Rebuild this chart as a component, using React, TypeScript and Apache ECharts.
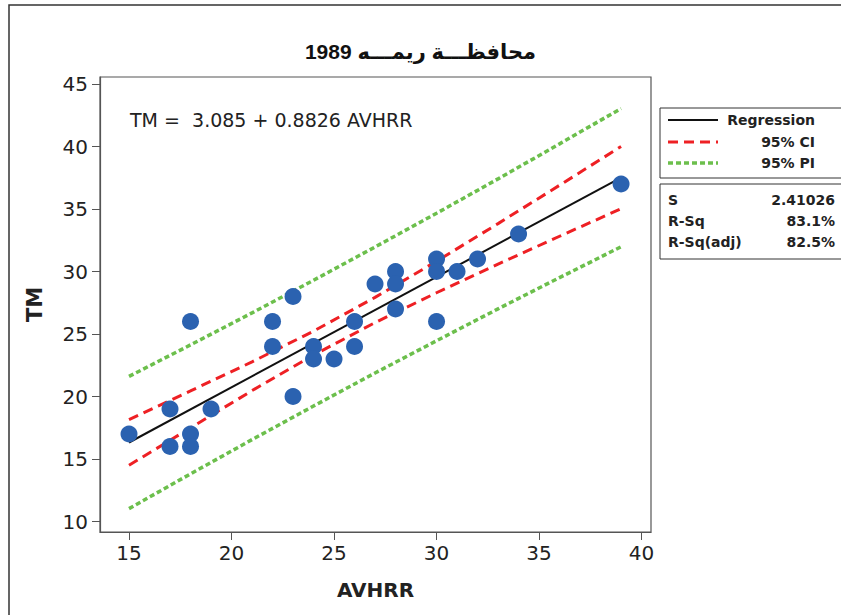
import React, { useEffect, useRef } from "react";
import * as echarts from "echarts";

const AVHRR = [15, 17, 17, 18, 18, 18, 19, 22, 22, 23, 23, 24, 24, 25, 26, 26, 27, 28, 28, 28, 30, 30, 30, 31, 32, 34, 39];
const TM = [17, 19, 16, 26, 17, 16, 19, 26, 24, 28, 20, 24, 23, 23, 26, 24, 29, 30, 29, 27, 31, 30, 26, 30, 31, 33, 37];

// Fitted line and bands
const FIT_X = [15, 39];
const FIT_Y = [16.32, 37.51];
const BAND_X = [15, 18, 21, 24, 27, 30, 33, 36, 39];
const CI_UPPER = [18.15, 20.45, 22.77, 25.23, 27.93, 30.82, 33.83, 36.9, 40.0];
const CI_LOWER = [14.5, 17.49, 20.47, 23.31, 25.91, 28.3, 30.59, 32.82, 35.02];
const PI_UPPER = [21.61, 24.13, 26.69, 29.3, 31.96, 34.66, 37.41, 40.21, 43.04];
const PI_LOWER = [11.03, 13.81, 16.55, 19.24, 21.88, 24.46, 27.01, 29.51, 31.98];

const X_TICKS = [15, 20, 25, 30, 35, 40];
const Y_TICKS = [10, 15, 20, 25, 30, 35, 40, 45];

const TITLE = "1989 محافظـــة ريمـــه";
const EQUATION = "TM =  3.085 + 0.8826 AVHRR";
const LEGEND_NAMES = ["Regression", "95% CI", "95% PI"];
const STAT_NAMES = ["S", "R-Sq", "R-Sq(adj)"];
const STAT_VALUES = ["2.41026", "83.1%", "82.5%"];

const RED = "#ee2024";
const GREEN = "#6cbf4c";
const BLUE = "#2b62b0";
const AXIS = "#555555";
const TXT = "#222222";
const TICK_FONT = "'DejaVu Sans', Tahoma, sans-serif";
const ARIAL = "'Liberation Sans', Arial, 'DejaVu Sans', sans-serif";

function zip(xs: number[], ys: number[]) {
  return xs.map((x, i) => [x, ys[i]]);
}

export default function App() {
  const ref = useRef<HTMLDivElement>(null);
  useEffect(() => {
    if (!ref.current) return;
    const chart = echarts.init(ref.current, null, { renderer: "svg" });

    const legendStyles = [
      { stroke: "#111", lineWidth: 2, lineDash: null as any },
      { stroke: RED, lineWidth: 3, lineDash: [10, 6] },
      { stroke: GREEN, lineWidth: 3.5, lineDash: [5, 3] },
    ];
    const legendYs = [120, 142, 163];
    const statYs = [200, 221, 242];

    const graphic: any[] = [
      {
        type: "rect",
        shape: { x: 9, y: 5, width: 900, height: 700 },
        style: { fill: "none", stroke: "#333", lineWidth: 1.5 },
        silent: true,
      },
      {
        type: "text",
        x: 130,
        y: 120,
        style: { text: EQUATION, fill: TXT, font: `19px ${TICK_FONT}`, textAlign: "left", textVerticalAlign: "middle" },
      },
      {
        type: "rect",
        shape: { x: 660, y: 108, width: 200, height: 70 },
        style: { fill: "#fff", stroke: "#333", lineWidth: 1 },
      },
      {
        type: "rect",
        shape: { x: 660, y: 184, width: 200, height: 75 },
        style: { fill: "#fff", stroke: "#333", lineWidth: 1 },
      },
    ];
    LEGEND_NAMES.forEach((name, i) => {
      graphic.push({
        type: "line",
        shape: { x1: 668, y1: legendYs[i], x2: 718, y2: legendYs[i] },
        style: legendStyles[i],
      });
      graphic.push({
        type: "text",
        x: 815,
        y: legendYs[i],
        style: { text: name, fill: TXT, font: `bold 14px ${TICK_FONT}`, textAlign: "right", textVerticalAlign: "middle" },
      });
    });
    STAT_NAMES.forEach((name, i) => {
      graphic.push({
        type: "text",
        x: 668,
        y: statYs[i],
        style: { text: name, fill: TXT, font: `bold 14px ${TICK_FONT}`, textAlign: "left", textVerticalAlign: "middle" },
      });
      graphic.push({
        type: "text",
        x: 835,
        y: statYs[i],
        style: { text: STAT_VALUES[i], fill: TXT, font: `bold 14px ${TICK_FONT}`, textAlign: "right", textVerticalAlign: "middle" },
      });
    });

    const lineSeries = (name: string, data: number[][], color: string, width: number, type: any) => ({
      name,
      type: "line",
      data,
      symbol: "none",
      showSymbol: false,
      lineStyle: { color, width, type },
      z: 2,
      silent: true,
    });

    chart.setOption({
      animation: false,
      title: {
        text: TITLE,
        left: "center",
        top: 36,
        textStyle: { fontSize: 21, fontWeight: "bold", fontFamily: ARIAL, color: "#111" },
      },
      grid: { left: 100, top: 77, width: 551, height: 455, show: true, borderColor: AXIS, borderWidth: 1.2, backgroundColor: "transparent" },
      xAxis: {
        type: "value",
        min: 13.585,
        max: 40.46,
        name: "AVHRR",
        nameLocation: "middle",
        nameGap: 48,
        nameTextStyle: { fontSize: 20, fontWeight: "bold", fontFamily: TICK_FONT, color: TXT },
        axisLine: { show: true, lineStyle: { color: AXIS, width: 1.2 } },
        axisTick: { show: true, length: 8, lineStyle: { color: AXIS }, customValues: X_TICKS },
        axisLabel: { fontSize: 20, fontFamily: TICK_FONT, color: TXT, margin: 11, customValues: X_TICKS },
        splitLine: { show: false },
      },
      yAxis: {
        type: "value",
        min: 9.16,
        max: 45.56,
        name: "TM",
        nameLocation: "middle",
        nameGap: 55,
        nameRotate: 90,
        nameTextStyle: { fontSize: 21, fontWeight: "bold", fontFamily: TICK_FONT, color: TXT },
        axisLine: { show: true, lineStyle: { color: AXIS, width: 1.2 } },
        axisTick: { show: true, length: 8, lineStyle: { color: AXIS }, customValues: Y_TICKS },
        axisLabel: { fontSize: 20, fontFamily: TICK_FONT, color: TXT, margin: 12, customValues: Y_TICKS },
        splitLine: { show: false },
      },
      graphic,
      series: [
        lineSeries("95% PI upper", zip(BAND_X, PI_UPPER), GREEN, 3.5, [5, 3]),
        lineSeries("95% PI lower", zip(BAND_X, PI_LOWER), GREEN, 3.5, [5, 3]),
        lineSeries("95% CI upper", zip(BAND_X, CI_UPPER), RED, 3, [10, 6]),
        lineSeries("95% CI lower", zip(BAND_X, CI_LOWER), RED, 3, [10, 6]),
        lineSeries("Regression", zip(FIT_X, FIT_Y), "#111", 2, "solid"),
        {
          name: "Data",
          type: "scatter",
          data: zip(AVHRR, TM),
          symbol: "circle",
          symbolSize: 17,
          itemStyle: { color: BLUE, opacity: 1 },
          z: 3,
        },
      ],
    });
    return () => chart.dispose();
  }, []);
  return (
    <div
      ref={ref}
      style={{ position: "fixed", left: 0, top: 0, width: 841, height: 615, background: "#fff" }}
    />
  );
}
